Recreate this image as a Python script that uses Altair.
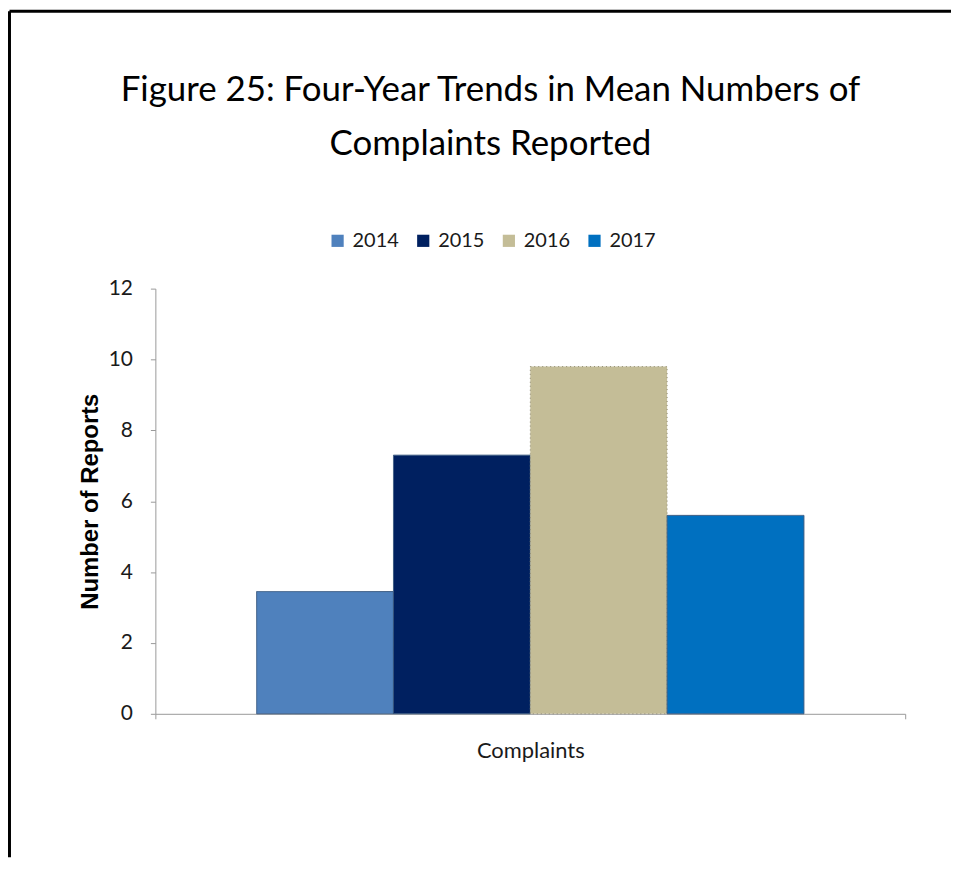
import altair as alt
import pandas as pd

categories = ["Complaints"]
years = ["2014", "2015", "2016", "2017"]
values = [3.45, 7.3, 9.8, 5.6]
colors = ["#4F81BD", "#002060", "#C4BD97", "#0070C0"]
y_ticks = [0, 2, 4, 6, 8, 10, 12]

df = pd.DataFrame({
    "category": [categories[0]] * len(years),
    "year": years,
    "value": values,
})

W, H = 753, 427
PAD = {"left": 148, "top": 280, "right": 46, "bottom": 144}

bars = alt.Chart(df).mark_bar(strokeWidth=1).encode(
    x=alt.X("category:N", title=None,
            scale=alt.Scale(paddingInner=0, paddingOuter=0),
            axis=alt.Axis(labelAngle=0, tickBand="extent", tickSize=5, grid=False,
                          tickColor="#999999", domainColor="#999999",
                          labelFont="Lato", labelFontSize=22, labelColor="#1a1a1a",
                          labelPadding=22)),
    xOffset=alt.XOffset("year:N", sort=years,
                        scale=alt.Scale(paddingInner=0, paddingOuter=0.74)),
    y=alt.Y("value:Q", title="Number of Reports",
            scale=alt.Scale(domain=[0, 12], nice=False),
            axis=alt.Axis(values=y_ticks, grid=False, tickSize=5,
                          tickColor="#999999", domainColor="#999999",
                          labelFont="Lato", labelFontSize=21, labelColor="#1a1a1a",
                          labelPadding=18,
                          titleFont="Liberation Sans", titleFontSize=24,
                          titleFontWeight="bold", titleColor="#000000",
                          titlePadding=6)),
    color=alt.Color("year:N", sort=years,
                    scale=alt.Scale(domain=years, range=colors),
                    legend=alt.Legend(title=None, orient="none", direction="horizontal",
                                      columns=4, legendX=173, legendY=-58,
                                      symbolType="square", symbolSize=150,
                                      symbolStrokeWidth=0, labelFont="Lato",
                                      labelFontSize=20, labelColor="#1a1a1a",
                                      labelOffset=5, columnPadding=14, padding=0)),
    stroke=alt.condition(alt.datum.year == "2016", alt.value("#8f8a70"), alt.value("#3a5a80")),
    strokeDash=alt.condition(alt.datum.year == "2016", alt.value([1, 3]), alt.value([1, 0])),
)

frame = pd.DataFrame({"a": [0]})
top_line = alt.Chart(frame).mark_rule(color="#000000", strokeWidth=3).encode(
    x=alt.value(-PAD["left"] + 1.5), x2=alt.value(W + PAD["right"]), y=alt.value(-PAD["top"] + 1.5))
left_line = alt.Chart(frame).mark_rule(color="#000000", strokeWidth=3).encode(
    x=alt.value(-PAD["left"] + 1.5), y=alt.value(-PAD["top"] + 1.5), y2=alt.value(H + PAD["bottom"]))

chart = alt.layer(bars, top_line, left_line).properties(
    width=W, height=H,
    autosize=alt.AutoSizeParams(type="none"),
    padding=PAD,
    background="#ffffff",
    title=alt.Title(["Figure 25: Four-Year Trends in Mean Numbers of", "Complaints Reported"],
                    font="Lato", fontSize=35, fontWeight="normal", color="#000000",
                    lineHeight=54, anchor="middle", dx=-40, offset=-153),
).configure_view(stroke=None)

chart.save("out.html", embed_options={"renderer": "svg", "actions": False})
